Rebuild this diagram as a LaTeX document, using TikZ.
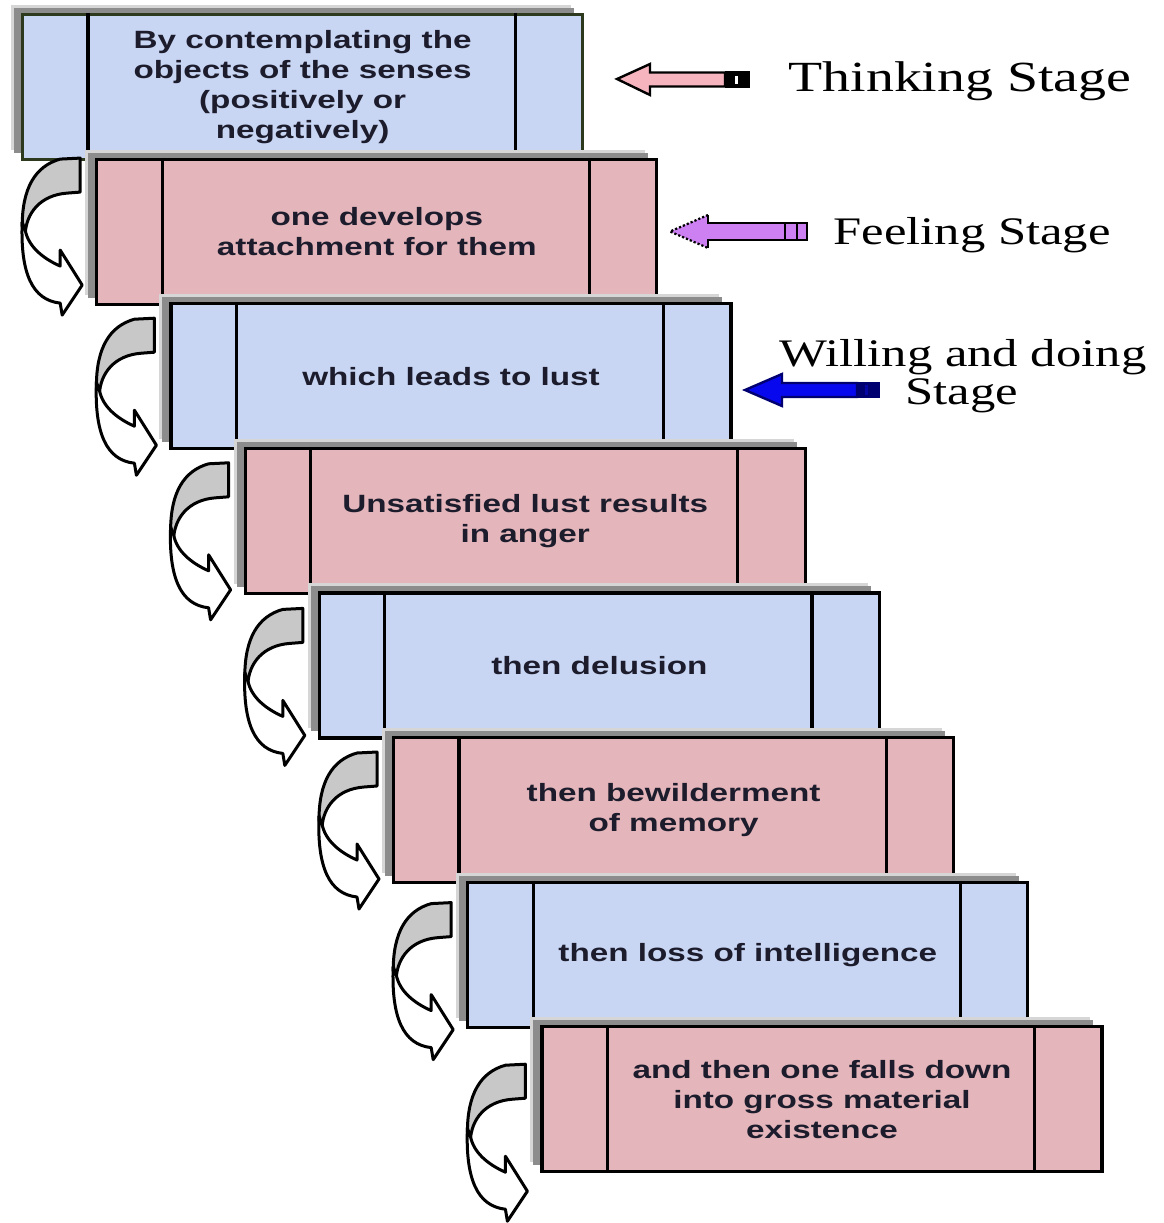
\documentclass[tikz,border=0pt]{standalone}
\usepackage{fontspec}
\newfontfamily\boxfont{Liberation Sans}[FakeStretch=1.33]
\newfontfamily\stagefont{Liberation Serif}[FakeStretch=1.3]
\definecolor{boxblue}{HTML}{C8D6F4}
\definecolor{boxpink}{HTML}{E4B6BB}
\definecolor{shadowgray}{HTML}{8C8C8C}
\definecolor{shadowlight}{HTML}{D6D6D6}
\definecolor{olivedark}{HTML}{2E3A1E}
\definecolor{txt}{HTML}{1C1C2C}
\definecolor{thinkpink}{HTML}{F6B4BE}
\definecolor{feelviolet}{HTML}{CC80F2}
\definecolor{willblue}{HTML}{0808EE}
\definecolor{willdark}{HTML}{000070}
\definecolor{arrowgray}{HTML}{C8C8C8}
\begin{document}
\begin{tikzpicture}[x=1pt,y=-1pt,
  stagebox/.style={draw=black, line width=3.2pt, minimum width=560pt, minimum height=145pt,
    inner sep=0pt, anchor=north west, align=center, text=txt,
    font=\boxfont\bfseries\fontsize{25}{30}\selectfont},
  divider/.style={draw=black, line width=3.2pt},
  stagetext/.style={inner sep=0pt, anchor=base, text=black},
  curvarrow/.pic={
    \filldraw[fill=arrowgray, draw=black, line width=3pt, line join=round]
      (0,0) -- (-20,1) .. controls (-45,8) and (-58,30) .. (-58,68) -- (-55,76)
      .. controls (-54,55) and (-40,37) .. (-13,35) -- (0,34) -- cycle;
    \filldraw[fill=white, draw=black, line width=3pt, line join=round]
      (-58,64) .. controls (-60,115) and (-48,142) .. (-20,145) -- (-18,157) -- (2,127)
      -- (-20,92) -- (-20,108) .. controls (-38,100) and (-52,88) .. (-55,72) -- cycle;
  }]
\useasboundingbox (0,0) rectangle (1164,1223);
\fill[white] (0,0) rectangle (1164,1223);

% box 1
\fill[shadowlight] (11,5) rectangle ++(560,145);
\fill[shadowgray] (14,8) rectangle ++(560,145);
\node[stagebox, fill=boxblue, draw=olivedark] (b1) at (21,13)
  {By contemplating the\\objects of the senses\\(positively or\\negatively)};
\draw[divider] ([xshift=67pt]b1.north west) -- ([xshift=67pt]b1.south west);
\draw[divider] ([xshift=-69pt]b1.north east) -- ([xshift=-69pt]b1.south east);

% box 2
\fill[shadowlight] (85.2,149.6) rectangle ++(560,145);
\fill[shadowgray] (88.2,152.6) rectangle ++(560,145);
\node[stagebox, fill=boxpink] (b2) at (95.2,157.6) {one develops\\attachment for them};
\draw[divider] ([xshift=67pt]b2.north west) -- ([xshift=67pt]b2.south west);
\draw[divider] ([xshift=-69pt]b2.north east) -- ([xshift=-69pt]b2.south east);

% box 3
\fill[shadowlight] (159.4,294.2) rectangle ++(560,145);
\fill[shadowgray] (162.4,297.2) rectangle ++(560,145);
\node[stagebox, fill=boxblue] (b3) at (169.4,302.2) {which leads to lust};
\draw[divider] ([xshift=67pt]b3.north west) -- ([xshift=67pt]b3.south west);
\draw[divider] ([xshift=-69pt]b3.north east) -- ([xshift=-69pt]b3.south east);

% box 4
\fill[shadowlight] (233.6,438.8) rectangle ++(560,145);
\fill[shadowgray] (236.6,441.8) rectangle ++(560,145);
\node[stagebox, fill=boxpink] (b4) at (243.6,446.8) {Unsatisfied lust results\\in anger};
\draw[divider] ([xshift=67pt]b4.north west) -- ([xshift=67pt]b4.south west);
\draw[divider] ([xshift=-69pt]b4.north east) -- ([xshift=-69pt]b4.south east);

% box 5
\fill[shadowlight] (307.8,583.4) rectangle ++(560,145);
\fill[shadowgray] (310.8,586.4) rectangle ++(560,145);
\node[stagebox, fill=boxblue] (b5) at (317.8,591.4) {then delusion};
\draw[divider] ([xshift=67pt]b5.north west) -- ([xshift=67pt]b5.south west);
\draw[divider] ([xshift=-69pt]b5.north east) -- ([xshift=-69pt]b5.south east);

% box 6
\fill[shadowlight] (382,728) rectangle ++(560,145);
\fill[shadowgray] (385,731) rectangle ++(560,145);
\node[stagebox, fill=boxpink] (b6) at (392,736) {then bewilderment\\of memory};
\draw[divider] ([xshift=67pt]b6.north west) -- ([xshift=67pt]b6.south west);
\draw[divider] ([xshift=-69pt]b6.north east) -- ([xshift=-69pt]b6.south east);

% box 7
\fill[shadowlight] (456.2,872.6) rectangle ++(560,145);
\fill[shadowgray] (459.2,875.6) rectangle ++(560,145);
\node[stagebox, fill=boxblue] (b7) at (466.2,880.6) {then loss of intelligence};
\draw[divider] ([xshift=67pt]b7.north west) -- ([xshift=67pt]b7.south west);
\draw[divider] ([xshift=-69pt]b7.north east) -- ([xshift=-69pt]b7.south east);

% box 8
\fill[shadowlight] (530.4,1017.2) rectangle ++(560,145);
\fill[shadowgray] (533.4,1020.2) rectangle ++(560,145);
\node[stagebox, fill=boxpink] (b8) at (540.4,1025.2) {and then one falls down\\into gross material\\existence};
\draw[divider] ([xshift=67pt]b8.north west) -- ([xshift=67pt]b8.south west);
\draw[divider] ([xshift=-69pt]b8.north east) -- ([xshift=-69pt]b8.south east);

% curved arrows between boxes
\pic (a1) at ([xshift=-15pt,yshift=-0.5pt]b2.north west) {curvarrow};
\pic (a2) at ([xshift=-15pt,yshift=-16pt]b3.north west) {curvarrow};
\pic (a3) at ([xshift=-15pt,yshift=-16pt]b4.north west) {curvarrow};
\pic (a4) at ([xshift=-15pt,yshift=-17pt]b5.north west) {curvarrow};
\pic (a5) at ([xshift=-15pt,yshift=-16pt]b6.north west) {curvarrow};
\pic (a6) at ([xshift=-15pt,yshift=-22pt]b7.north west) {curvarrow};
\pic (a7) at ([xshift=-15pt,yshift=-39pt]b8.north west) {curvarrow};

% Thinking stage arrow
\filldraw[fill=thinkpink, draw=black, line width=2.4pt, line join=miter]
  (617,79) -- (650,64) -- (650,72.5) -- (725,72.5) -- (725,86.5) -- (650,86.5) -- (650,95) -- cycle;
\fill[black] (725,71.3) rectangle (750,87.7);
\fill[white] (735,76) rectangle (738,84);
\node[stagetext, font=\stagefont\fontsize{43}{43}\selectfont] (think) at (960,92) {Thinking Stage};

% Feeling stage arrow
\fill[feelviolet] (670,231.5) -- (708,215) -- (708,223) -- (807,223) -- (807,240) -- (708,240) -- (708,248) -- cycle;
\draw[line width=2.2pt, dotted] (708,215) -- (670,231.5) -- (708,248);
\draw[line width=2.2pt] (708,215) -- (708,223) -- (807,223) -- (807,240) -- (708,240) -- (708,248);
\draw[line width=1.6pt] (785,223) -- (785,240);
\draw[line width=1.6pt] (797,223) -- (797,240);
\node[stagetext, font=\stagefont\fontsize{39}{39}\selectfont] (feel) at (972,244) {Feeling Stage};

% Willing and doing stage arrow
\filldraw[fill=willblue, draw=willdark, line width=2.4pt, line join=miter]
  (745,390) -- (782,374) -- (782,383) -- (857,383) -- (857,397) -- (782,397) -- (782,406) -- cycle;
\fill[willdark] (857,381.8) rectangle (880,398.2);
\fill[willblue!70!black] (865,385) rectangle (868,395);
\node[stagetext, font=\stagefont\fontsize{39}{39}\selectfont] (will1) at (963,366) {Willing and doing};
\node[stagetext, font=\stagefont\fontsize{39}{39}\selectfont] (will2) at (962,404) {Stage};
\end{tikzpicture}
\end{document}
